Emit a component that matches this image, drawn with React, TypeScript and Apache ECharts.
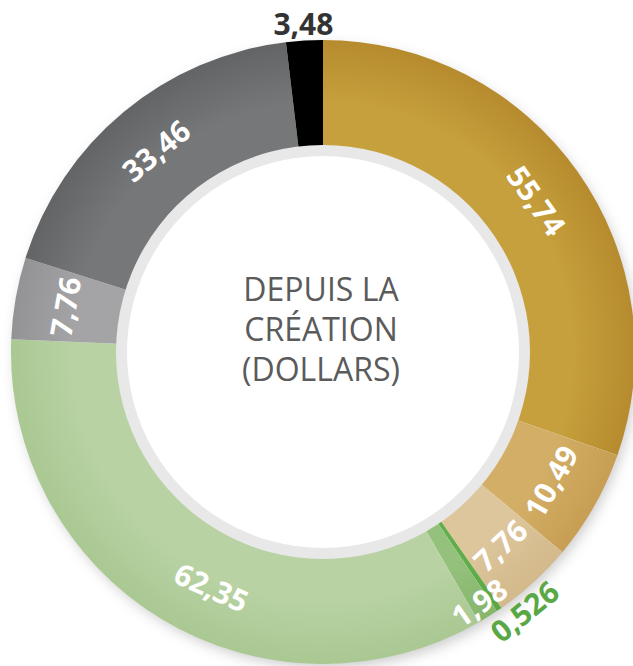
import React, { useEffect, useRef } from "react";
import * as echarts from "echarts";

// ---- data ----
const sliceNames = [
  "or-1", "or-2", "or-3", "vert-1", "vert-2", "vert-3", "gris-1", "gris-2", "noir",
];
const sliceValues = [55.74, 10.49, 7.76, 0.526, 1.98, 62.35, 7.76, 33.46, 3.48];
const centerLines = ["DEPUIS LA", "CRÉATION", "(DOLLARS)"];

// ---- styles ----
const innerColors = ["#C6A03C", "#D3AE66", "#DDC69C", "#62AD4B", "#94C17B", "#B8D2A3", "#A4A4A6", "#767779", "#000000"];
const outerColors = ["#B68B2E", "#C79E53", "#D3B98B", "#5AA845", "#86B56C", "#AAC892", "#939395", "#636466", "#000000"];
// label groups: main (ring middle), outer (outside ring), edge (outer part of ring)
const outsideLabel: Record<number, string> = { 3: "#5AA845", 8: "#333333" };
const edgeLabel: Record<number, boolean> = { 4: true };

const CX = 323;
const CY = 352;
const R0 = 206;
const R1 = 312;

const fmt = (v: number) => String(v).replace(".", ",");

export default function App() {
  const ref = useRef<HTMLDivElement>(null);
  useEffect(() => {
    if (!ref.current) return;
    const chart = echarts.init(ref.current, undefined, { renderer: "svg" });
    const grad = (i: number) => ({
      type: "radial",
      x: CX,
      y: CY,
      r: R1,
      global: true,
      colorStops: [
        { offset: R0 / R1, color: innerColors[i] },
        { offset: 0.8, color: innerColors[i] },
        { offset: 1, color: outerColors[i] },
      ],
    });
    const mainLabel = (i: number) => {
      if (i in outsideLabel || i in edgeLabel) return { show: false };
      if (i === 5) return { show: true, rotate: -24, padding: [11, 0, 0, 53] };
      return { show: true };
    };
    const mainData = sliceValues.map((v, i) => ({
      name: sliceNames[i],
      value: v,
      itemStyle: { color: grad(i) as any },
      label: mainLabel(i),
    }));
    const outerData = sliceValues.map((v, i) => ({
      name: sliceNames[i],
      value: v,
      itemStyle: { color: "rgba(0,0,0,0)" },
      label:
        i in outsideLabel
          ? i === 8
            ? { show: true, color: outsideLabel[i], rotate: 0 }
            : {
                show: true,
                color: outsideLabel[i],
                rotate: 39,
                padding: [0, 0, 0, 40],
              }
          : { show: false },
    }));
    const edgeData = sliceValues.map((v, i) => ({
      name: sliceNames[i],
      value: v,
      itemStyle: { color: "rgba(0,0,0,0)" },
      label: i in edgeLabel ? { show: true, fontSize: 30, rotate: 35 } : { show: false },
    }));
    const labelBase = {
      position: "inside",
      fontFamily: "Open Sans",
      fontWeight: "bold",
      fontSize: 30,
      overflow: "none",
      formatter: (p: any) => fmt(p.value),
    };
    chart.setOption({
      animation: false,
      graphic: [
        {
          type: "circle",
          z: 0,
          shape: { cx: CX, cy: CY, r: R1 - 2 },
          style: {
            fill: "#ffffff",
            shadowBlur: 14,
            shadowColor: "rgba(0,0,0,0.22)",
            shadowOffsetX: 3,
            shadowOffsetY: 5,
          },
        },
        {
          type: "ring",
          z: 10,
          shape: { cx: CX, cy: CY, r: R0 + 1, r0: R0 - 10 },
          style: { fill: "#E8E8E8" },
        },
        {
          type: "text",
          z: 10,
          x: 321,
          y: 328,
          style: {
            text: centerLines.join("\n"),
            fill: "#5B5B5B",
            font: '32px "Open Sans"',
            lineHeight: 40,
            align: "center",
            verticalAlign: "middle",
          },
        },
      ],
      series: [
        {
          type: "pie",
          z: 2,
          center: [CX, CY],
          radius: [R0, R1],
          startAngle: 90,
          clockwise: true,
          avoidLabelOverlap: false,
          silent: true,
          itemStyle: { borderWidth: 0 },
          label: { ...labelBase, show: true, rotate: "tangential", color: "#ffffff" },
          labelLine: { show: false },
          data: mainData,
        },
        {
          type: "pie",
          z: 3,
          center: [CX, CY],
          radius: [272, R1],
          startAngle: 90,
          clockwise: true,
          avoidLabelOverlap: false,
          silent: true,
          label: { ...labelBase, show: true, color: "#ffffff" },
          labelLine: { show: false },
          data: edgeData,
        },
        {
          type: "pie",
          z: 3,
          center: [CX, CY],
          radius: [R1, R1 + 28],
          startAngle: 90,
          clockwise: true,
          avoidLabelOverlap: false,
          silent: true,
          label: { ...labelBase, show: true },
          labelLine: { show: false },
          data: outerData,
        },
      ],
    });
    return () => chart.dispose();
  }, []);
  return (
    <div
      ref={ref}
      style={{ position: "absolute", left: 0, top: 0, width: 633, height: 666 }}
    />
  );
}
